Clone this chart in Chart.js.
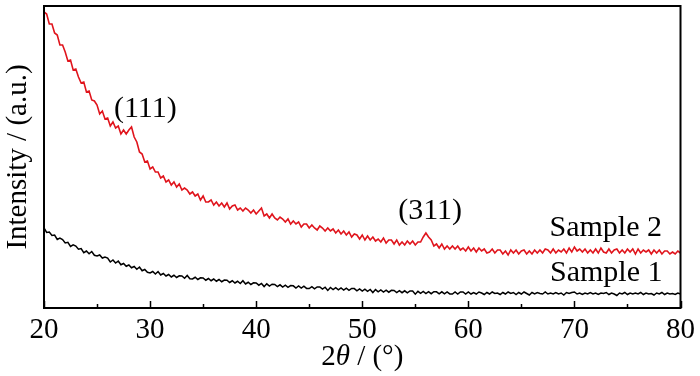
<!DOCTYPE html>
<html>
<head>
<meta charset="utf-8">
<script src="https://cdn.jsdelivr.net/npm/chart.js@4.4.1/dist/chart.umd.min.js"></script>
<style>
  html, body { margin: 0; padding: 0; background: #fff; }
  #xrd { display: block; }
</style>
</head>
<body>
<canvas id="xrd" width="700" height="376"></canvas>
<script>
// XRD patterns, every 0.25 deg from 20 to 80 (2theta)
const START_ANGLE = 20;
const STEP = 0.25;

// Sample 2 (red), intensity in a.u.
const sample2 = [
  296, 294, 284, 284, 275, 273, 263, 263, 256, 247, 248, 238, 239, 231, 225, 226,
  216, 217, 208, 207, 203, 194, 197, 189, 190, 182, 186, 180, 182, 174, 178, 174,
  178, 181, 171, 166, 156, 154, 146, 147, 139, 141, 136, 136, 130, 132, 126, 128,
  123, 126, 121, 124, 118, 120, 118, 114, 116, 112, 114, 108, 112, 106, 106, 108,
  103, 106, 102, 105, 101, 105, 99, 102, 103, 98, 100, 97, 100, 98, 95, 98,
  94, 97, 100, 92, 94, 90, 94, 90, 88, 91, 89, 86, 89, 84, 87, 84,
  86, 81, 84, 84, 80, 83, 80, 78, 82, 80, 77, 80, 77, 79, 75, 78,
  74, 77, 73, 76, 71, 74, 73, 69, 73, 68, 72, 68, 71, 67, 69, 66,
  70, 65, 68, 68, 64, 68, 63, 66, 63, 67, 64, 67, 63, 66, 66, 71,
  75, 71, 68, 62, 64, 60, 64, 59, 62, 59, 62, 59, 62, 58, 60, 57,
  61, 57, 60, 56, 60, 57, 59, 55, 56, 59, 55, 58, 58, 54, 57, 53,
  58, 55, 58, 54, 57, 58, 54, 57, 54, 58, 55, 58, 55, 59, 58, 55,
  59, 55, 58, 56, 59, 55, 60, 56, 61, 57, 59, 56, 59, 55, 58, 55,
  59, 55, 60, 56, 55, 59, 55, 58, 59, 55, 58, 55, 59, 56, 59, 54,
  59, 55, 58, 56, 58, 54, 58, 55, 58, 54, 57, 57, 54, 56, 54, 57,
  55
];

// Sample 1 (black), intensity in a.u.
const sample1 = [
  80, 75.5, 76, 72.5, 73, 68.5, 70, 68.5, 65, 65.75, 61.5, 63.25, 62, 58.75, 59.5, 55.25,
  57, 54.25, 56.5, 52.75, 52, 53, 50, 51, 50, 46, 48, 45, 47, 43.25, 44.5, 41.75,
  43, 40.25, 41.5, 38.75, 41, 37.25, 38.5, 35.75, 35, 36.5, 34, 36.5, 33, 34.5, 32, 33.5,
  31, 32.75, 30.5, 32.25, 32, 29.75, 32.5, 29.25, 29, 30.75, 28.5, 30.25, 30, 27.75, 29.5, 27.25,
  29, 26.75, 28.5, 26.25, 28, 27.75, 25.5, 27.25, 25, 26.75, 24.5, 27.25, 24, 25.75, 23.5, 25.25,
  25, 22.8, 24.6, 21.4, 24.2, 22, 23.8, 23.6, 21.4, 23.2, 21, 22.8, 20.6, 22.4, 22.2, 20,
  22, 19.9, 21.75, 19.6, 19.5, 21.4, 19.25, 21.1, 21, 18.9, 20.75, 17.6, 20.5, 18.4, 20.25, 18.1,
  20, 17.9, 19.75, 17.6, 19.5, 19.4, 17.25, 19.1, 17, 18.9, 16.75, 18.6, 15.5, 18.4, 16.25, 18.1,
  16, 17.9, 15.8, 17.7, 17.6, 15.5, 17.4, 15.3, 17.2, 15.1, 17, 16.9, 13.8, 16.7, 14.6, 16.5,
  14.4, 16.4, 14.3, 16.3, 16.2, 14.2, 16.2, 14.1, 16.1, 14.1, 14, 16, 14, 16, 16, 14,
  16, 14, 15.5, 14, 16, 15, 13.5, 15.5, 14, 16, 14.5, 15, 13.5, 15.5, 14, 16,
  14.5, 15.5, 13.5, 15.5, 14, 16, 14.5, 13, 15.5, 14, 15.5, 14.5, 14, 16, 14, 15,
  14, 15.5, 14, 15, 13, 15.5, 14.5, 15.5, 16, 14, 15, 13.5, 15, 14, 15.5, 14,
  15, 13.5, 15, 14.5, 15.5, 13.5, 15, 14, 12.5, 15, 14, 15.5, 13.5, 15, 14, 15,
  14, 15.5, 13.5, 15, 14, 14.5, 13, 15, 14, 15.5, 13.5, 15, 14, 14.5, 13.5, 15,
  14
];

// peak labels and sample names, placed in data units
const labelTexts = ['(111)', '(311)', 'Sample 2', 'Sample 1'];
const labelAngles = [29.55, 56.4, 72.95, 73.0];
const labelIntensities = [199, 97, 80, 35];

const X_MIN = 20, X_MAX = 80, Y_MIN = 0, Y_MAX = 302;
const SERIF = '"Liberation Serif", "Times New Roman", serif';

function toPoints(values) {
  return values.map((v, i) => ({ x: START_ANGLE + i * STEP, y: v }));
}

// Frame, inward ticks, labels and x title
const decorPlugin = {
  id: 'decor',
  afterDraw(chart) {
    const { ctx, chartArea: a, scales } = chart;
    const xs = scales.x, ys = scales.y;
    ctx.save();

    ctx.strokeStyle = '#000';
    ctx.lineWidth = 2;
    ctx.strokeRect(a.left, a.top, a.right - a.left, a.bottom - a.top);

    ctx.lineWidth = 1.5;
    for (let t = X_MIN; t <= X_MAX; t += 5) {
      const px = Math.round(xs.getPixelForValue(t)) + 0.5;
      const len = (t % 10 === 0) ? 7 : 4;
      ctx.beginPath();
      ctx.moveTo(px, a.bottom);
      ctx.lineTo(px, a.bottom - len);
      ctx.stroke();
    }

    ctx.fillStyle = '#000';
    ctx.textAlign = 'center';
    ctx.textBaseline = 'middle';
    ctx.font = '30px ' + SERIF;
    labelTexts.forEach((txt, i) => {
      ctx.fillText(txt, xs.getPixelForValue(labelAngles[i]), ys.getPixelForValue(labelIntensities[i]));
    });

    // x title: 2θ / (°) with italic theta
    const parts = [
      { t: '2', f: '29px ' + SERIF },
      { t: 'θ', f: 'italic 29px ' + SERIF },
      { t: ' / (°)', f: '29px ' + SERIF }
    ];
    let total = 0;
    parts.forEach(p => { ctx.font = p.f; p.w = ctx.measureText(p.t).width; total += p.w; });
    let cx = (a.left + a.right) / 2 - total / 2;
    const cy = 357;
    ctx.textAlign = 'left';
    parts.forEach(p => { ctx.font = p.f; ctx.fillText(p.t, cx, cy); cx += p.w; });

    ctx.restore();
  }
};

new Chart(document.getElementById('xrd'), {
  type: 'line',
  data: {
    datasets: [
      {
        label: 'Sample 2',
        data: toPoints(sample2),
        borderColor: '#e0141c',
        borderWidth: 1.6,
        pointRadius: 0,
        tension: 0
      },
      {
        label: 'Sample 1',
        data: toPoints(sample1),
        borderColor: '#000000',
        borderWidth: 1.5,
        pointRadius: 0,
        tension: 0
      }
    ]
  },
  options: {
    responsive: false,
    animation: false,
    devicePixelRatio: 1,
    layout: { padding: { top: 6, right: 16, left: 0, bottom: 0 } },
    plugins: {
      legend: { display: false },
      tooltip: { enabled: false }
    },
    scales: {
      x: {
        type: 'linear',
        min: X_MIN,
        max: X_MAX,
        grid: { display: false, drawTicks: false },
        border: { display: false },
        ticks: {
          stepSize: 10,
          padding: 5,
          color: '#000',
          maxRotation: 0,
          font: { family: SERIF, size: 29 }
        },
        afterFit(scale) { scale.height = 68; }
      },
      y: {
        min: Y_MIN,
        max: Y_MAX,
        grid: { display: false, drawTicks: false },
        border: { display: false },
        ticks: { display: false },
        title: {
          display: true,
          text: 'Intensity / (a.u.)',
          color: '#000',
          font: { family: SERIF, size: 29 },
          padding: { top: 1, bottom: 0 }
        },
        afterFit(scale) { scale.width = 44; }
      }
    }
  },
  plugins: [decorPlugin]
});
</script>
</body>
</html>
